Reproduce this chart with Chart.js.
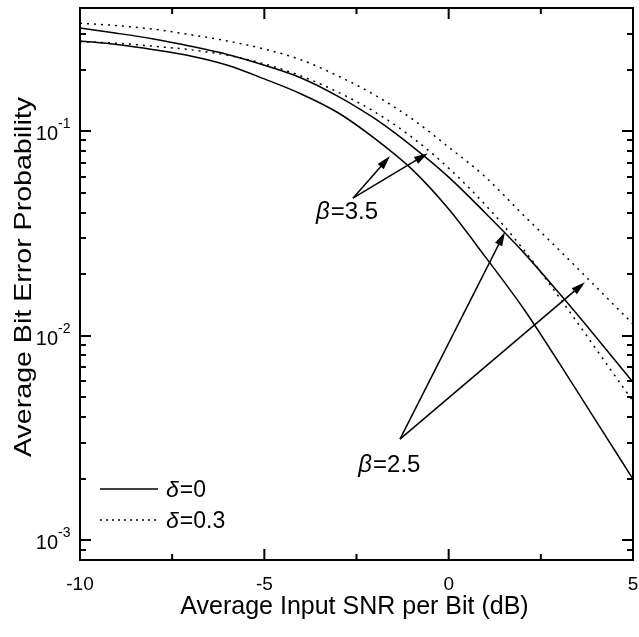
<!DOCTYPE html>
<html>
<head>
<meta charset="utf-8">
<script src="https://cdn.jsdelivr.net/npm/chart.js@4.4.0/dist/chart.umd.min.js"></script>
<style>
html,body{margin:0;padding:0;background:#fff;}
#wrap{width:639px;height:637px;}
</style>
</head>
<body>
<div id="wrap"><canvas id="berChart" width="639" height="637"></canvas></div>
<script>
// SNR per bit (dB)
var snr = [-10,-9,-8,-7,-6,-5,-4,-3,-2,-1,0,1,2,3,4,5];
// average BER
var berB25d0  = [0.319,0.301,0.282,0.260,0.237,0.210,0.182,0.148,0.115,0.0845,0.0596,0.0397,0.0259,0.0161,0.00983,0.00592];
var berB25d03 = [0.337,0.328,0.315,0.296,0.276,0.252,0.223,0.186,0.150,0.115,0.0835,0.0596,0.0393,0.0262,0.0173,0.0114];
var berB35d0  = [0.276,0.265,0.250,0.233,0.210,0.180,0.152,0.123,0.0919,0.0652,0.0416,0.0242,0.0138,0.00734,0.00382,0.00199];
var berB35d03 = [0.274,0.269,0.260,0.250,0.235,0.213,0.186,0.155,0.124,0.0935,0.0659,0.0435,0.0268,0.0154,0.00859,0.00478];

var xTicks = [-10,-5,0,5];
var xMinorTicks = [-7.5,-2.5,2.5];
var yDecades = [-3,-2,-1];
var deltaLabels = ["0","0.3"];
var betaLabels = ["3.5","2.5"];

var FONT = "'Liberation Sans', Arial, sans-serif";

function pts(ys){
  return snr.map(function(x,i){ return {x:x, y:ys[i]}; });
}

// arrows, in data units: label spot, arrow start, arrow tips
var betaNotes = [
  {text:betaLabels[0], at:[-3.6,0.0371], from:[-2.596,0.0470], to:[[-1.592,0.0755],[-0.561,0.0780]]},
  {text:betaLabels[1], at:[-2.45,0.00215], from:[-1.321,0.00312], to:[[1.527,0.0321],[3.697,0.01827]]}
];

function drawArrow(ctx,x1,y1,x2,y2){
  var ang=Math.atan2(y2-y1,x2-x1), len=14, w=4;
  ctx.beginPath();
  ctx.moveTo(x1,y1);
  ctx.lineTo(x2-Math.cos(ang)*len*0.8,y2-Math.sin(ang)*len*0.8);
  ctx.stroke();
  ctx.beginPath();
  ctx.moveTo(x2,y2);
  ctx.lineTo(x2-Math.cos(ang)*len-Math.sin(ang)*w, y2-Math.sin(ang)*len+Math.cos(ang)*w);
  ctx.lineTo(x2-Math.cos(ang)*len+Math.sin(ang)*w, y2-Math.sin(ang)*len-Math.cos(ang)*w);
  ctx.closePath();
  ctx.fill();
}

function greekText(ctx,greek,rest,x,y,size){
  ctx.textAlign='left';
  ctx.textBaseline='alphabetic';
  ctx.font='italic '+size+'px '+FONT;
  ctx.fillText(greek,x,y);
  var w=ctx.measureText(greek).width;
  ctx.font=size+'px '+FONT;
  ctx.fillText(rest,x+w+1,y);
}

var framePlugin = {
  id:'frame',
  afterDatasetsDraw:function(chart){
    var ctx=chart.ctx, a=chart.chartArea, xs=chart.scales.x, ys=chart.scales.y;
    ctx.save();
    ctx.strokeStyle='#000';
    ctx.fillStyle='#000';

    // ticks (inward, all four sides)
    ctx.lineWidth=2;
    ctx.beginPath();
    xTicks.concat(xMinorTicks).forEach(function(v){
      var p=xs.getPixelForValue(v);
      var l=xMinorTicks.indexOf(v)>=0 ? 6 : 11;
      ctx.moveTo(p,a.bottom); ctx.lineTo(p,a.bottom-l);
      ctx.moveTo(p,a.top); ctx.lineTo(p,a.top+l);
    });
    for(var d=-4; d<=0; d++){
      for(var m=1; m<=9; m++){
        var v=m*Math.pow(10,d);
        if(v<ys.min || v>ys.max) continue;
        var p=Math.round(ys.getPixelForValue(v));
        var l=(m===1) ? 11 : 6;
        ctx.moveTo(a.left,p); ctx.lineTo(a.left+l,p);
        ctx.moveTo(a.right,p); ctx.lineTo(a.right-l,p);
      }
    }
    ctx.stroke();

    // box
    ctx.lineWidth=2;
    ctx.strokeRect(a.left,a.top,a.right-a.left,a.bottom-a.top);

    // x tick labels
    ctx.font='19px '+FONT;
    ctx.textAlign='center';
    ctx.textBaseline='alphabetic';
    xTicks.forEach(function(v){
      ctx.fillText(String(v), xs.getPixelForValue(v), a.bottom+30);
    });

    // y tick labels 10^d
    yDecades.forEach(function(d){
      var p=ys.getPixelForValue(Math.pow(10,d));
      ctx.font='20px '+FONT;
      ctx.textAlign='right';
      ctx.fillText('10', a.left-22, p+9);
      ctx.font='14px '+FONT;
      ctx.textAlign='left';
      ctx.fillText('-'+Math.abs(d), a.left-22, p-3);
    });

    // legend
    var ly=[a.bottom-71, a.bottom-40];
    ctx.lineWidth=1.5;
    ctx.beginPath();
    ctx.moveTo(a.left+20,ly[0]); ctx.lineTo(a.left+78,ly[0]);
    ctx.stroke();
    ctx.setLineDash([2,4]);
    ctx.beginPath();
    ctx.moveTo(a.left+20,ly[1]); ctx.lineTo(a.left+78,ly[1]);
    ctx.stroke();
    ctx.setLineDash([]);
    deltaLabels.forEach(function(t,i){
      greekText(ctx,'\u03b4','='+t,a.left+86,ly[i]+8,23);
    });

    // beta annotations
    ctx.lineWidth=1.5;
    betaNotes.forEach(function(n){
      var fx=xs.getPixelForValue(n.from[0]), fy=ys.getPixelForValue(n.from[1]);
      n.to.forEach(function(t){
        drawArrow(ctx,fx,fy,xs.getPixelForValue(t[0]),ys.getPixelForValue(t[1]));
      });
      greekText(ctx,'\u03b2','='+n.text,xs.getPixelForValue(n.at[0]),ys.getPixelForValue(n.at[1]),24);
    });

    // axis titles
    ctx.font='25px '+FONT;
    ctx.textAlign='center';
    ctx.textBaseline='alphabetic';
    ctx.fillText('Average Input SNR per Bit (dB)', (a.left+a.right)/2-2, 614);
    var yTitle='Average Bit Error Probability';
    ctx.font='24px '+FONT;
    var sx=360/ctx.measureText(yTitle).width;
    ctx.translate(31,277);
    ctx.rotate(-Math.PI/2);
    ctx.scale(sx,1);
    ctx.fillText(yTitle, 0, 0);
    ctx.restore();
  }
};

function line(data,dotted){
  return {
    data:pts(data),
    borderColor:'#000',
    borderWidth:1.5,
    borderDash:dotted ? [2,5] : [],
    pointRadius:0,
    fill:false,
    cubicInterpolationMode:'monotone'
  };
}

var chart = new Chart(document.getElementById('berChart'), {
  type:'line',
  data:{
    datasets:[
      line(berB25d03,true),
      line(berB25d0,false),
      line(berB35d03,true),
      line(berB35d0,false)
    ]
  },
  options:{
    responsive:false,
    animation:false,
    layout:{padding:{top:8,right:6,left:0,bottom:0}},
    plugins:{legend:{display:false},tooltip:{enabled:false}},
    scales:{
      x:{
        type:'linear', min:-10, max:5,
        grid:{display:false,drawTicks:false},
        border:{display:false},
        ticks:{display:false},
        afterFit:function(s){ s.height=77; }
      },
      y:{
        type:'logarithmic', min:0.0008, max:0.4,
        grid:{display:false,drawTicks:false},
        border:{display:false},
        ticks:{display:false},
        afterFit:function(s){ s.width=80; }
      }
    }
  },
  plugins:[framePlugin]
});
</script>
</body>
</html>
